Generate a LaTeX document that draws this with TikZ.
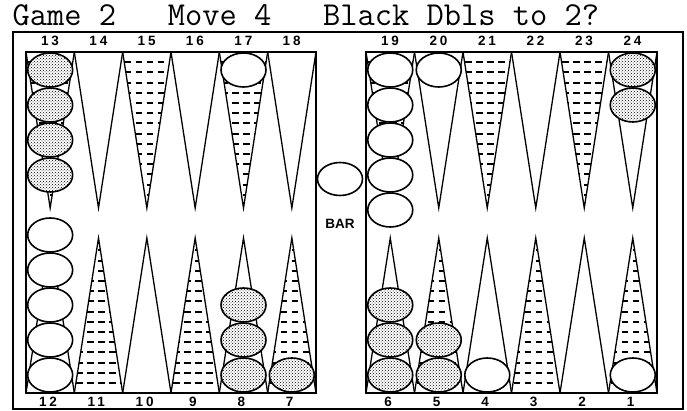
\documentclass[tikz,border=0pt]{standalone}
\usepackage{fontspec}
\setmainfont{Liberation Sans}
\usepackage{tikz}
\usetikzlibrary{patterns}

\tikzset{
  numlabel/.style={draw=none, inner sep=0pt, font=\bfseries\fontsize{13.5}{14}\selectfont\addfontfeature{LetterSpace=22}},
  blackman/.style={draw, line width=1.6pt, fill=white, postaction={pattern=crosshatch dots}},
  whiteman/.style={draw, line width=1.6pt, fill=white},
  dashrow/.style={line width=2pt, dash pattern=on 6.5pt off 4.5pt},
}

\begin{document}
\begin{tikzpicture}[x=1pt, y=-1pt, line width=1.3pt]
            \useasboundingbox (0,0) rectangle (687,411);

            \node[anchor=base west, inner sep=0pt, font=\ttfamily\fontsize{33.5}{34}\selectfont] (title) at (12,26) {Game 2\ \ \ Move 4\ \ \ Black Dbls to 2?};

            % frame and the two halves
            \draw (13,32) rectangle (683,409);
            \draw (26,52) rectangle (316,393);
            \draw (366,52) rectangle (657,393);

            % dotted points (odd numbers)
            \foreach \x in {26, 122.67, 219.33, 366, 463, 560} {
                \begin{scope}
                    \clip (\x,52) -- (\x+24.2,208) -- (\x+48.4,52) -- cycle;
                    \foreach \k in {0,...,15}
                        \draw[dashrow] (\x+2,52+10.2*\k) -- (\x+48.4,52+10.2*\k);
                \end{scope}
            }
            \foreach \x in {74.33, 171, 267.67, 414.5, 511.5, 608.5} {
                \begin{scope}
                    \clip (\x,393) -- (\x+24.2,238) -- (\x+48.4,393) -- cycle;
                    \foreach \k in {0,...,14}
                        \draw[dashrow] (\x+2,383-10.2*\k) -- (\x+48.4,383-10.2*\k);
                \end{scope}
            }

            % the points
            \foreach \x in {26, 74.33, 122.67, 171, 219.33, 267.67} {
                \draw (\x,52) -- (\x+24.17,208) -- (\x+48.33,52);
                \draw (\x,393) -- (\x+24.17,238) -- (\x+48.33,393);
            }
            \foreach \x in {366, 414.5, 463, 511.5, 560, 608.5} {
                \draw (\x,52) -- (\x+24.25,208) -- (\x+48.5,52);
                \draw (\x,393) -- (\x+24.25,238) -- (\x+48.5,393);
            }

            % point numbers
            \foreach \n [count=\i from 0] in {13,...,18}
                \node[numlabel] (p\n) at (50+48.33*\i,41) {\n};
            \foreach \n [count=\i from 0] in {19,...,24}
                \node[numlabel] (p\n) at (390+48.5*\i,41) {\n};
            \foreach \n [count=\i from 0] in {12,11,...,7}
                \node[numlabel] (p\n) at (48+48.33*\i,402) {\n};
            \foreach \n [count=\i from 0] in {6,5,...,1}
                \node[numlabel] (p\n) at (388+48.5*\i,402) {\n};

            % men, top half
            \foreach \y in {70,105,140,175}
                \draw[blackman] (50.17,\y) ellipse (22.5pt and 17pt);
            \draw[whiteman] (243.5,70) ellipse (22.5pt and 17pt);
            \foreach \y in {70,105,140,175,210}
                \draw[whiteman] (390.25,\y) ellipse (22.5pt and 17pt);
            \draw[whiteman] (438.75,70) ellipse (22.5pt and 17pt);
            \foreach \y in {70,105}
                \draw[blackman] (632.75,\y) ellipse (22.5pt and 17pt);

            % men, bottom half
            \foreach \y in {375,340,305,270,235}
                \draw[whiteman] (50.17,\y) ellipse (22.5pt and 17pt);
            \foreach \y in {375,340,305}
                \draw[blackman] (243.5,\y) ellipse (22.5pt and 17pt);
            \draw[blackman] (291.83,375) ellipse (22.5pt and 17pt);
            \foreach \y in {375,340,305}
                \draw[blackman] (390.25,\y) ellipse (22.5pt and 17pt);
            \foreach \y in {375,340}
                \draw[blackman] (438.75,\y) ellipse (22.5pt and 17pt);
            \draw[whiteman] (487.25,375) ellipse (22.5pt and 17pt);
            \draw[whiteman] (632.75,375) ellipse (22.5pt and 17pt);

            % the bar
            \draw[whiteman] (340,179) ellipse (22.5pt and 16.5pt);
            \node[numlabel, font=\bfseries\fontsize{13.5}{14}\selectfont] (bar) at (340,224) {BAR};

\end{tikzpicture}
\end{document}
